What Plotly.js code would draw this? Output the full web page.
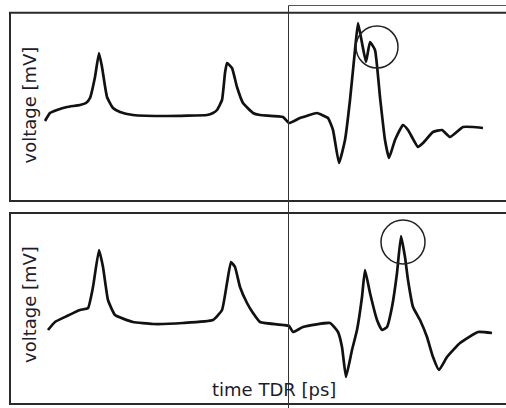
<!DOCTYPE html>
<html>
<head>
<meta charset="utf-8">
<script src="https://cdn.plot.ly/plotly-3.0.1.min.js"></script>
<style>
html,body{margin:0;padding:0;background:#fff;}
#chart{width:506px;height:408px;}
</style>
</head>
<body>
<div id="chart"></div>
<script>
// Top trace: time TDR (arbitrary units) and voltage (arbitrary mV)
const topTime = [45,50,57,67,80,86,90,95,99,102,107,113,120,133,167,207,213,217,222,225,227,232,237,243,253,260,283,289,300,317,322,328,333,339,345,350,355,358,362,366,370,375,380,385,389,395,403,408,418,423,433,442,450,463,473,483];
const topVoltage = [-3,5,8,11,13,15,20,41,65,51,21,10,6,3,2,3,5,8,18,45,55,50,31,15,5,3,1,-5,0,5,3,0,-12,-45,-22,18,68,95,75,56,76,68,21,-22,-40,-22,-7,-12,-29,-25,-14,-12,-19,-9,-9,-10];

// Bottom trace
const botTime = [48,55,67,80,88,93,99,103,108,115,133,153,183,213,222,227,231,235,240,247,253,260,283,289,293,303,330,338,342,346,352,357,362,365,370,377,382,387,392,397,401,405,408,413,420,427,433,439,447,460,478,492];
const botVoltage = [-8,0,6,12,14,35,72,55,22,7,0,-2,-1,2,12,39,60,55,35,19,9,0,-3,-4,-10,-5,-1,-10,-25,-55,-28,-8,25,52,29,2,-8,-5,15,49,86,65,42,15,2,-15,-35,-48,-35,-21,-10,-11];

// Highlighted peaks (circle centres) and labels
const topMark = {t: 377, v: 71, r: 21};
const botMark = {t: 403, v: 80, r: 22};
const yLabel = "voltage [mV]";
const xLabel = "time TDR [ps]";

const H = 408;
const py = y => 1 - y / H;

const lineStyle = {color: '#111111', width: 2.7, shape: 'spline', smoothing: 0.4};
const traces = [
  {x: topTime, y: topVoltage, xaxis: 'x', yaxis: 'y', mode: 'lines', line: lineStyle, hoverinfo: 'skip'},
  {x: botTime, y: botVoltage, xaxis: 'x', yaxis: 'y2', mode: 'lines', line: lineStyle, hoverinfo: 'skip'}
];

const hidden = {visible: false, showgrid: false, zeroline: false, fixedrange: true};
const border = {color: '#2a2a2a', width: 2};
const font = {family: 'DejaVu Sans', size: 18, color: '#1c1c2c'};
const layout = {
  width: 506, height: 408,
  margin: {l: 0, r: 0, t: 0, b: 0},
  paper_bgcolor: '#ffffff', plot_bgcolor: '#ffffff',
  showlegend: false,
  xaxis: Object.assign({range: [0, 506], domain: [0, 1]}, hidden),
  yaxis: Object.assign({range: [-86, 118], domain: [0.5, 1]}, hidden),
  yaxis2: Object.assign({range: [-86, 118], domain: [0, 0.5]}, hidden),
  shapes: [
    {type: 'rect', xref: 'x', yref: 'paper', x0: 10, x1: 530, y0: py(201), y1: py(12.7), line: border, fillcolor: 'rgba(0,0,0,0)'},
    {type: 'rect', xref: 'x', yref: 'paper', x0: 10, x1: 530, y0: py(404), y1: py(213), line: border, fillcolor: 'rgba(0,0,0,0)'},
    {type: 'line', xref: 'x', yref: 'paper', x0: 288.5, x1: 530, y0: py(5.5), y1: py(5.5), line: {color: '#555', width: 1}},
    {type: 'line', xref: 'x', yref: 'paper', x0: 288.5, x1: 288.5, y0: 0, y1: py(5.5), line: {color: '#333', width: 1}},
    {type: 'circle', xref: 'x', yref: 'y', x0: topMark.t - topMark.r, x1: topMark.t + topMark.r, y0: topMark.v - topMark.r, y1: topMark.v + topMark.r, line: {color: '#222', width: 1.5}},
    {type: 'circle', xref: 'x', yref: 'y2', x0: botMark.t - botMark.r, x1: botMark.t + botMark.r, y0: botMark.v - botMark.r, y1: botMark.v + botMark.r, line: {color: '#222', width: 1.5}}
  ],
  annotations: [
    {text: yLabel, xref: 'x', yref: 'paper', x: 29, y: py(105.5), xanchor: 'center', yanchor: 'middle', textangle: -90, showarrow: false, font: font},
    {text: yLabel, xref: 'x', yref: 'paper', x: 29, y: py(305), xanchor: 'center', yanchor: 'middle', textangle: -90, showarrow: false, font: font},
    {text: xLabel, xref: 'x', yref: 'paper', x: 274, y: py(389), xanchor: 'center', yanchor: 'middle', showarrow: false, font: font}
  ]
};

Plotly.newPlot('chart', traces, layout, {staticPlot: true, displayModeBar: false});
</script>
</body>
</html>
